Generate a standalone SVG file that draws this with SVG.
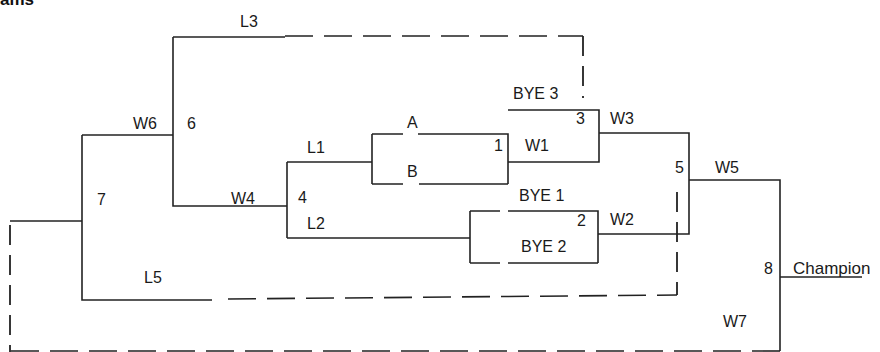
<svg xmlns="http://www.w3.org/2000/svg" width="880" height="352" viewBox="0 0 880 352">
<style>
  .ln { fill: none; stroke: #222; stroke-width: 1.6; }
  .ds { fill: none; stroke: #222; stroke-width: 1.6; stroke-dasharray: 28 11; }
  .dv { fill: none; stroke: #222; stroke-width: 1.8; stroke-dasharray: 20 10; }
  .t { font-family: "Liberation Sans", Arial, sans-serif; font-size: 16px; fill: #1a1a1a; }
  .h { font-family: "Liberation Sans", Arial, sans-serif; font-size: 17px; font-weight: bold; fill: #111; }
</style>
<rect width="880" height="352" fill="#ffffff"/>
<text class="h" x="0" y="5">ams</text>
<g id="connectors">
  <path class="ln" d="M173 37 H285"/>
  <path class="ds" d="M285 36 H583"/>
  <path class="dv" d="M583 36 V98"/>
  <path class="ln" d="M173 37 V206 H287"/>
  <path class="ln" d="M82 135 H173"/>
  <path class="ln" d="M287 162 V238"/>
  <path class="ln" d="M287 162 H372"/>
  <path class="ln" d="M287 238 H470"/>
  <path class="ln" d="M372 134 V184 M372 134 H403 M418 134 H508 V184 M372 184 H403 M419 184 H508"/>
  <path class="ln" d="M470 211 V263 M470 211 H500 M508 211 H598 V263 M470 263 H500 M508 263 H598"/>
  <path class="ln" d="M508 110 H599 V162 H508"/>
  <path class="ln" d="M599 133 H689 V234 H598"/>
  <path class="ln" d="M689 180 H780 V351"/>
  <path class="ln" d="M780 277 H862"/>
  <path class="ln" d="M10 221 H82"/>
  <path class="ln" d="M82 135 V300 H212"/>
  <path class="ds" d="M228 299 L677 295"/>
  <path class="dv" d="M677 192 V295"/>
  <path class="dv" d="M10 225 V352"/>
  <path class="ds" d="M780 351 H10"/>
</g>
<g id="node-match1">
  <text class="t" x="407" y="128">A</text>
  <text class="t" x="407" y="177">B</text>
  <text class="t" x="494" y="151">1</text>
  <text class="t" x="525" y="151">W1</text>
</g>
<g id="node-match2">
  <text class="t" x="519" y="201">BYE 1</text>
  <text class="t" x="521" y="252">BYE 2</text>
  <text class="t" x="577" y="226">2</text>
  <text class="t" x="610" y="225">W2</text>
</g>
<g id="node-match3">
  <text class="t" x="513" y="99">BYE 3</text>
  <text class="t" x="576" y="124">3</text>
  <text class="t" x="610" y="124">W3</text>
</g>
<g id="node-match4">
  <text class="t" x="307" y="153">L1</text>
  <text class="t" x="298" y="203">4</text>
  <text class="t" x="307" y="229">L2</text>
  <text class="t" x="231" y="204">W4</text>
</g>
<g id="node-match5">
  <text class="t" x="675" y="173">5</text>
  <text class="t" x="715" y="173">W5</text>
</g>
<g id="node-match6">
  <text class="t" x="240" y="27">L3</text>
  <text class="t" x="187" y="129">6</text>
  <text class="t" x="133" y="129">W6</text>
</g>
<g id="node-match7">
  <text class="t" x="97" y="205">7</text>
  <text class="t" x="144" y="283">L5</text>
  <text class="t" x="723" y="327">W7</text>
</g>
<g id="node-match8">
  <text class="t" x="764" y="274">8</text>
  <text class="t" x="793" y="274" style="font-size:17px">Champion</text>
</g>
</svg>
